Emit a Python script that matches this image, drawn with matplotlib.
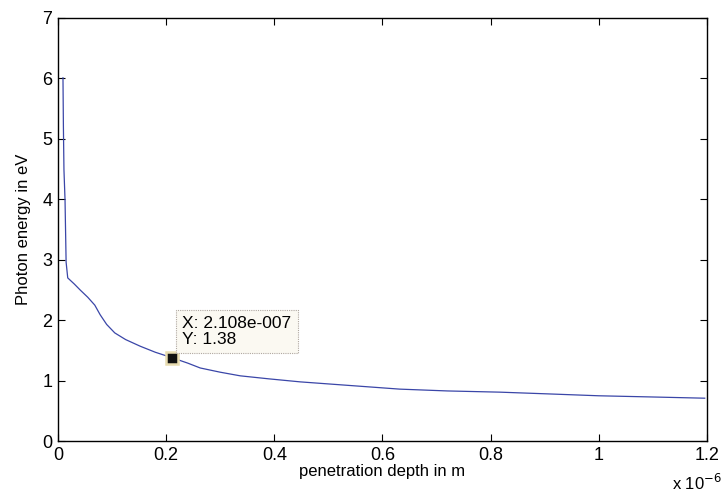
import matplotlib.pyplot as plt
import numpy as np

plt.rcParams['font.family'] = ['Liberation Sans', 'DejaVu Sans']

# penetration depth (units of 1e-6 m) and photon energy (eV)
depth = [0.0092, 0.0100, 0.0110, 0.0130, 0.0150, 0.0180, 0.030, 0.041, 0.055,
         0.068, 0.078, 0.090, 0.105, 0.125, 0.152, 0.180, 0.2108, 0.240,
         0.263, 0.300, 0.337, 0.390, 0.448, 0.540, 0.632, 0.720, 0.817,
         0.910, 1.000, 1.100, 1.196]
energy = [6.01, 5.20, 4.49, 3.99, 2.96, 2.70, 2.60, 2.50, 2.38,
          2.25, 2.09, 1.93, 1.79, 1.68, 1.57, 1.47, 1.38, 1.29,
          1.21, 1.14, 1.08, 1.03, 0.98, 0.92, 0.86, 0.83, 0.81,
          0.78, 0.75, 0.73, 0.71]

tip_x, tip_y = 0.2108, 1.38

fig = plt.figure(figsize=(7.25, 4.99), dpi=100)
ax = fig.add_axes([0.080, 0.116, 0.895, 0.848])
ax.plot(depth, energy, color='#3a46a8', lw=0.9)

# data tip
ax.plot(tip_x, tip_y, marker='s', ms=8, mfc='#111111', mec='#e8dcb0', mew=1.8)
ax.annotate('X: 2.108e-007\nY: 1.38', xy=(tip_x, tip_y), xytext=(0.230, 1.55),
            fontsize=12.5, va='bottom', ha='left', linespacing=1.15,
            bbox=dict(boxstyle='square,pad=0.35', fc='#fbf9f2', ec='#b0a8a0',
                      ls=(0, (1, 1)), lw=0.8))

ax.set_xlim(0, 1.2)
ax.set_ylim(0, 7)
ax.set_xticks([0, 0.2, 0.4, 0.6, 0.8, 1, 1.2])
ax.set_xticklabels(['0', '0.2', '0.4', '0.6', '0.8', '1', '1.2'])
ax.set_yticks(range(8))
ax.tick_params(direction='in', top=True, right=True, labelsize=13, length=5,
               width=0.8, pad=4)
for s in ax.spines.values():
    s.set_linewidth(1.0)
ax.set_xlabel('penetration depth in m', fontsize=12, labelpad=0)
ax.set_ylabel('Photon energy in eV', fontsize=12, labelpad=8)
fig.text(0.962, 0.018, r'x 10$^{-6}$', fontsize=12, ha='center')

plt.savefig('out.png')
